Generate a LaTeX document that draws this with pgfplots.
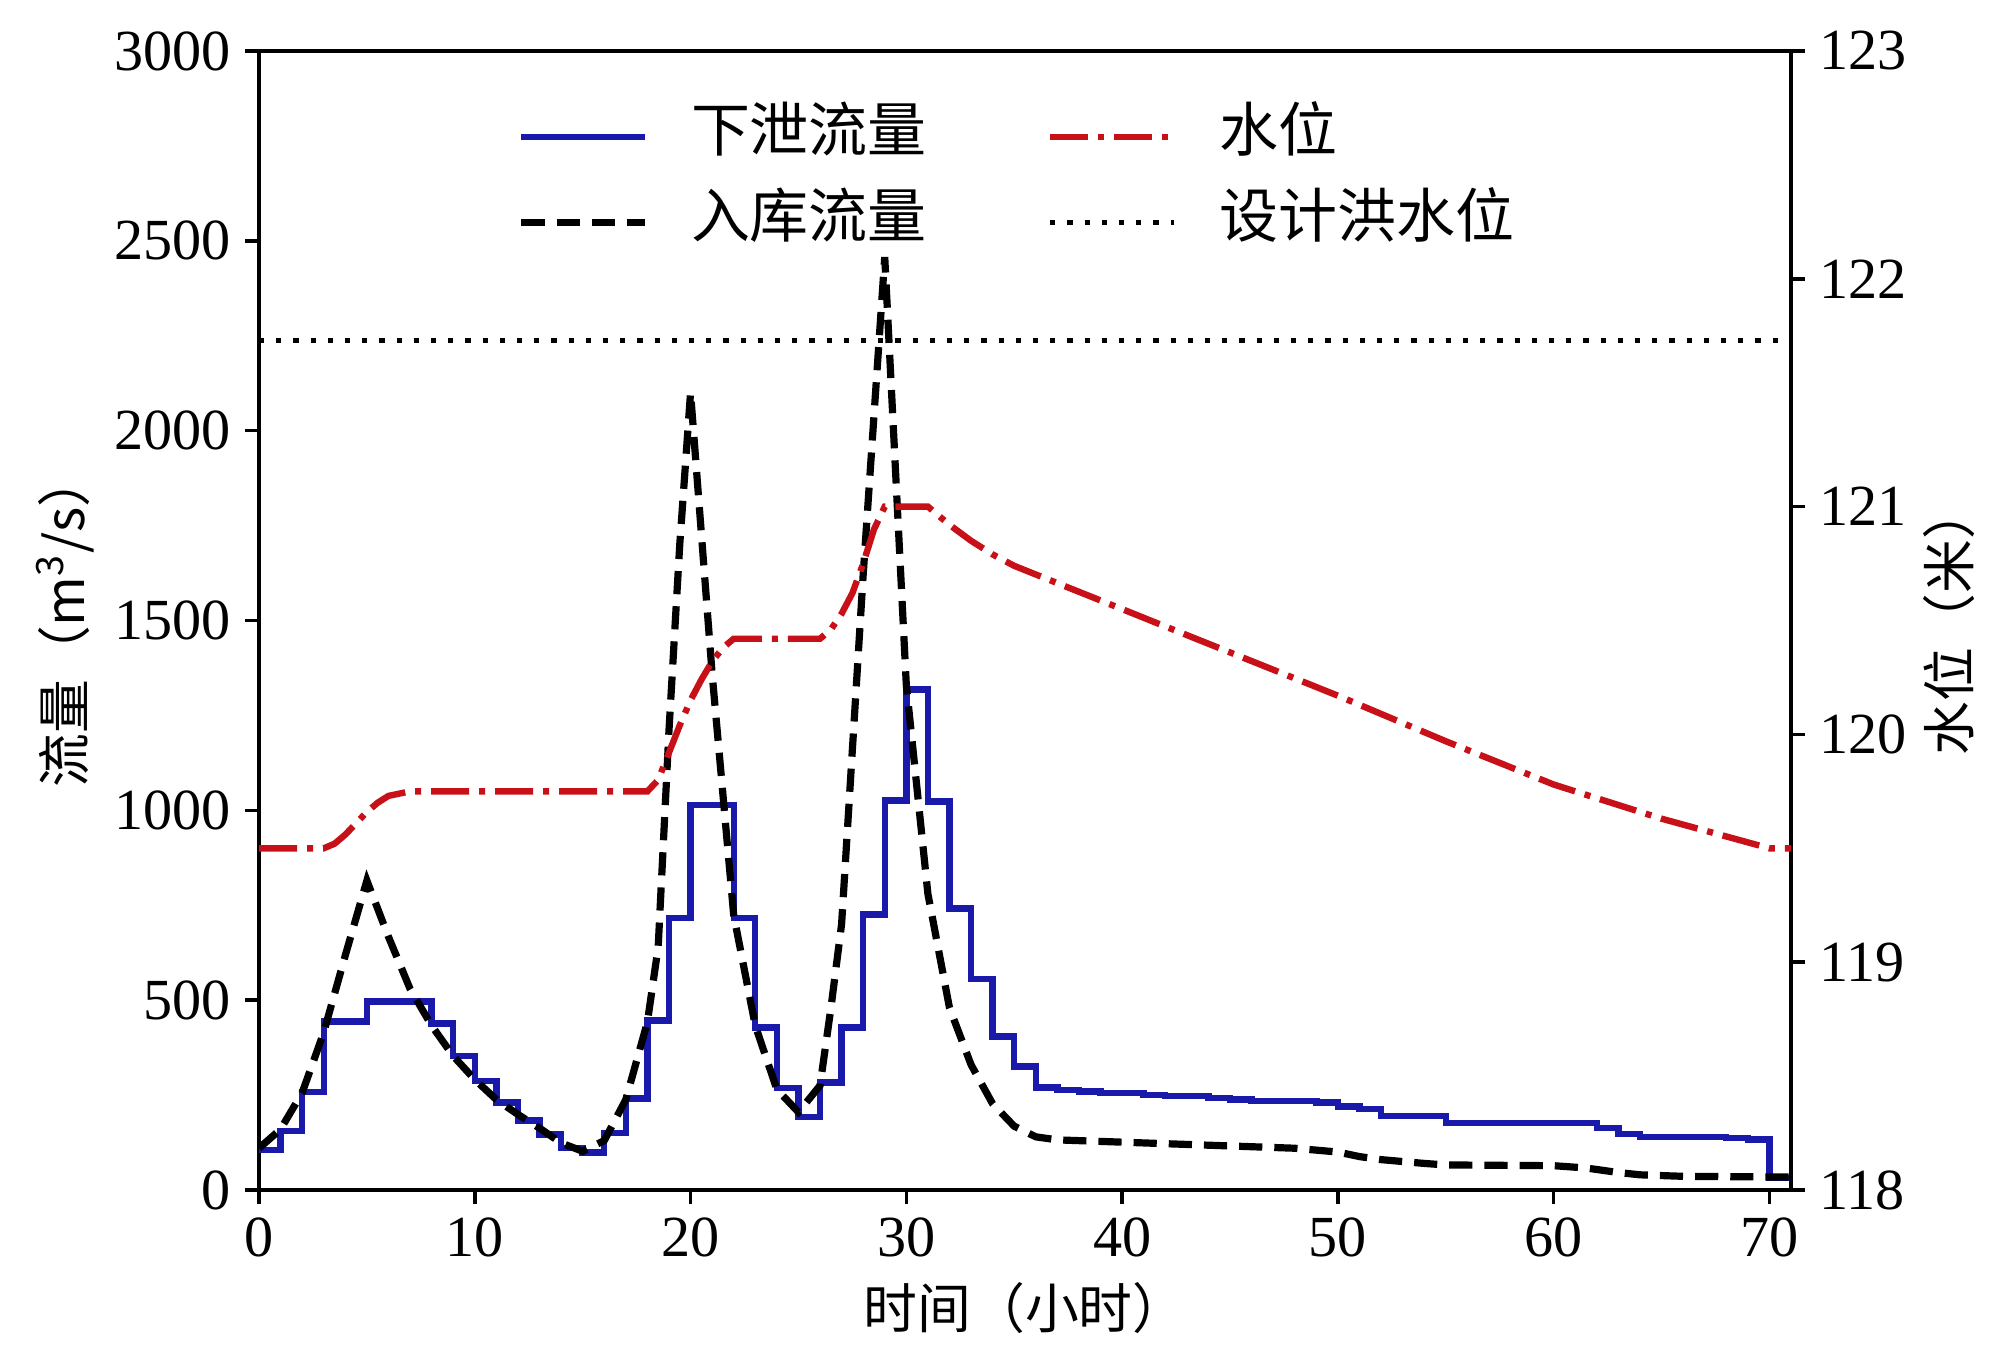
\documentclass[border=0pt]{standalone}
\usepackage{pgfplots}
\pgfplotsset{compat=1.18}
\usepackage{fontspec}
\setmainfont{Liberation Serif}
\newfontfamily\cjk{Noto Sans CJK SC}
\definecolor{flowblue}{RGB}{25,25,170}
\definecolor{levelred}{RGB}{200,16,24}
\begin{document}
\begin{tikzpicture}
\pgfplotsset{
  common/.style={
    width=383bp, height=284.75bp, scale only axis,
    xmin=0, xmax=71,
    /pgf/number format/assume math mode=true,
    tick label style={font=\fontsize{14.6}{14.6}\selectfont},
    tick align=outside,
    major tick length=3.5bp,
    every tick/.style={black, line width=0.9bp},
    axis line style={line width=0.9bp},
    scaled ticks=false,
    /pgf/number format/1000 sep={},
  }
}
\begin{axis}[common,
  ymin=0, ymax=3000,
  xtick={0,10,...,70}, ytick={0,500,...,3000},
  xtick pos=bottom, ytick pos=left,
  every axis y label/.style={at={(rel axis cs:0,0.5)}, xshift=-48.5bp, rotate=90, anchor=center},
  every axis x label/.style={at={(rel axis cs:0.5,0)}, yshift=-29.5bp, anchor=center},
  ylabel={\cjk\fontsize{13.5}{14}\selectfont 流量（m\textsuperscript{3}/s）},
  xlabel={\cjk\fontsize{13.5}{14}\selectfont 时间（小时）},
]
\addplot[const plot mark left, flowblue, line width=1.6bp] coordinates {
(0,105)(1,155)(2,258)(3,444)(5,496)(8,439)(9,353)(10,287)(11,230)(12,183)
(13,146)(14,110)(15,99)(16,150)(17,241)(18,446)(19,716)(20,1014)(22,716)
(23,428)(24,269)(25,193)(26,283)(27,428)(28,726)(29,1026)(30,1318)(31,1023)
(32,741)(33,556)(34,404)(35,325)(36,270)(37,264)(38,259)(39,255)(41,250)
(42,247)(44,243)(45,238)(46,234)(49,230)(50,220)(51,213)(52,195)(55,177)
(62,164)(63,148)(64,140)(68,137)(69,133)(70,31)(71,31)};
\addplot[black, line width=1.8bp, dash pattern=on 5.8bp off 3bp] coordinates {
(0,110)(1,160)(2,256)(3,415)(4,618)(5,815)(6,667)(7,530)(8,433)(9,353)
(10,291)(11,238)(12,199)(13,163)(14,124)(15,102)(16,130)(17,238)(18,442)
(18.5,640)(19,1210)(19.5,1700)(20,2100)(21,1360)(22,724)(23,433)(24,265)
(25,205)(26,275)(26.5,477)(27,700)(28,1620)(29,2457)(30,1330)(31,780)
(32,480)(33,330)(34,227)(35,168)(36,140)(37,132)(40,126)(45,116)(48,110)
(50,100)(51,88)(52,80)(54,70)(55,66)(60,64)(61.5,58)(63,46)(64,40)(66,36)(71,34)};
\end{axis}
\begin{axis}[common,
  ymin=118, ymax=123, ytick={118,...,123},
  axis x line=none, axis y line*=right, ytick pos=right,
  every axis y label/.style={at={(rel axis cs:1,0.5)}, xshift=39.5bp, rotate=90, anchor=center},
  ylabel={\cjk\fontsize{13.5}{14}\selectfont 水位（米）},
  legend columns=2,
  legend style={at={(rel axis cs:0,1)}, anchor=north west, xshift=64.5bp, yshift=-14.5bp,
    draw=none, fill=none, inner sep=0pt, row sep=7.85bp,
    font=\cjk\fontsize{14.8}{17}\selectfont,
    nodes={inner sep=0pt, text height=10.5bp, text depth=3bp, anchor=west}},
  legend cell align=left,
  /tikz/every odd column/.style={column sep=10.5bp},
  /tikz/every even column/.style={column sep=30bp},
  legend image code/.code={\draw[#1] (0bp,0bp) -- (31bp,0bp);},
]
\addlegendimage{flowblue, line width=1.6bp}
\addlegendentry{下泄流量}
\addplot[levelred, line width=1.6bp, dash pattern=on 9.5bp off 2.5bp on 1.5bp off 2.5bp] coordinates {
(0,119.5)(3,119.5)(3.5,119.52)(4,119.56)(4.5,119.61)(5,119.66)(5.5,119.70)
(6,119.73)(7,119.75)(18,119.75)(18.5,119.80)(19,119.92)(19.5,120.04)(20,120.15)
(20.5,120.24)(21,120.32)(21.5,120.38)(22,120.42)(26,120.42)(26.5,120.46)
(27,120.53)(27.5,120.62)(28,120.75)(28.5,120.90)(29,121.0)(31,121.0)
(31.5,120.96)(32,120.92)(33,120.85)(34,120.79)(35,120.74)(40,120.55)
(45,120.36)(50,120.17)(55,119.97)(60,119.78)(65,119.63)(70,119.5)(71,119.5)};
\addlegendentry{水位}
\addlegendimage{black, line width=1.8bp, dash pattern=on 5.8bp off 3bp}
\addlegendentry{入库流量}
\addplot[black, line width=1.3bp, dash pattern=on 1.3bp off 3bp] coordinates {(0,121.73)(71,121.73)};
\addlegendentry{设计洪水位}
\end{axis}
\pgfresetboundingbox
\path[use as bounding box] (-64.75bp,-45bp) rectangle (435.25bp,297.5bp);
\end{tikzpicture}
\end{document}
